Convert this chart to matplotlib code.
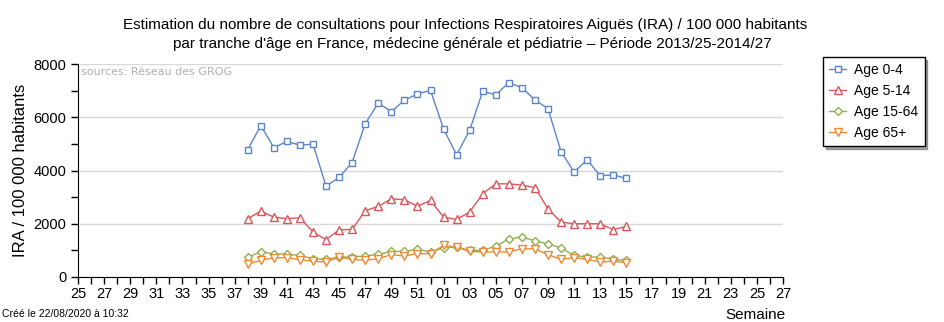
import matplotlib
matplotlib.use('Agg')
import matplotlib.pyplot as plt
from matplotlib.ticker import MultipleLocator

# semaines 2013/25 -> 2014/27 (2013 a 52 semaines)
week_labels = [f"{w:02d}" for w in list(range(25, 53)) + list(range(1, 28))]
data_weeks = [f"{w:02d}" for w in list(range(38, 53)) + list(range(1, 16))]

age_0_4 = [4780, 5690, 4860, 5090, 4950, 4990, 3410, 3740, 4300, 5760,
           6540, 6210, 6640, 6875, 7010, 5560, 4590, 5510, 6975, 6840,
           7300, 7110, 6650, 6325, 4710, 3940, 4400, 3800, 3840, 3700]
age_5_14 = [2190, 2475, 2250, 2190, 2225, 1690, 1400, 1775, 1790, 2490,
            2650, 2940, 2900, 2660, 2875, 2250, 2160, 2440, 3125, 3500,
            3500, 3450, 3360, 2560, 2060, 2000, 2000, 2000, 1775, 1900]
age_15_64 = [750, 940, 875, 850, 810, 690, 660, 750, 750, 790,
             850, 960, 960, 1040, 940, 1090, 1125, 1000, 1000, 1160,
             1425, 1500, 1360, 1240, 1090, 810, 750, 750, 660, 625]
age_65 = [475, 625, 725, 725, 650, 590, 560, 750, 660, 625,
          690, 840, 790, 875, 875, 1190, 1125, 960, 940, 940,
          940, 1060, 1060, 840, 660, 725, 660, 560, 590, 540]

series = [
    ('Age 0-4', age_0_4, '#5a86c8', 's', 5),
    ('Age 5-14', age_5_14, '#d9575a', '^', 6),
    ('Age 15-64', age_15_64, '#8fb050', 'D', 4),
    ('Age 65+', age_65, '#ee8a35', 'v', 6),
]

plt.rcParams['font.family'] = ['Liberation Sans', 'DejaVu Sans']

fig = plt.figure(figsize=(9.44, 3.22), dpi=100)
ax = fig.add_axes([78 / 944, 1 - 277 / 322, (783 - 78) / 944, (277 - 64) / 322])

x0 = week_labels.index(data_weeks[0])
xs = list(range(x0, x0 + len(data_weeks)))

handles = []
for name, vals, col, mk, ms in series:
    h, = ax.plot(xs, vals, color=col, lw=1, marker=mk, ms=ms,
                 mfc='white', mec=col, mew=1, label=name)
    handles.append(h)

ax.set_xlim(0, len(week_labels) - 1)
ax.set_ylim(0, 8000)
ax.set_xticks(range(len(week_labels)))
ax.set_xticklabels([l if i % 2 == 0 else '' for i, l in enumerate(week_labels)], fontsize=10.5)
ax.yaxis.set_major_locator(MultipleLocator(2000))
ax.yaxis.set_minor_locator(MultipleLocator(1000))
ax.tick_params(axis='x', direction='out', length=5, width=1, pad=2)
ax.tick_params(axis='y', which='both', direction='out', length=5, width=1, labelsize=10.5)
ax.grid(axis='y', color='#d8d8d8', lw=1)
ax.set_axisbelow(True)
for s in ['top', 'right']:
    ax.spines[s].set_visible(False)
ax.set_ylabel('IRA / 100 000 habitants', fontsize=12)

ax.text(0.004, 0.985, 'sources: Réseau des GROG', transform=ax.transAxes,
        fontsize=8, color='#b0b0b0', va='top', ha='left',
        family=['DejaVu Sans'])

fig.text(465 / 944, 1 - 25 / 322,
         "Estimation du nombre de consultations pour Infections Respiratoires Aiguës (IRA) / 100 000 habitants",
         ha='center', va='center', fontsize=11)
fig.text(472 / 944, 1 - 44 / 322,
         "par tranche d'âge en France, médecine générale et pédiatrie – Période 2013/25-2014/27",
         ha='center', va='center', fontsize=11)

fig.text(755 / 944, 1 - 315 / 322, 'Semaine', ha='center', va='center', fontsize=11)
fig.text(2 / 944, 1 - 314 / 322, 'Créé le 22/08/2020 à 10:32', ha='left', va='center', fontsize=7.5)

leg = fig.legend(handles=handles, loc='upper left', bbox_to_anchor=(816 / 944, 1 - 50 / 322),
                 frameon=True, fancybox=False, shadow=True,
                 handlelength=1.2, borderpad=0.45, labelspacing=0.5, handletextpad=0.6,
                 prop={'size': 10})
leg.get_frame().set_edgecolor('black')
leg.get_frame().set_linewidth(1)

fig.savefig('out.png', dpi=100)
